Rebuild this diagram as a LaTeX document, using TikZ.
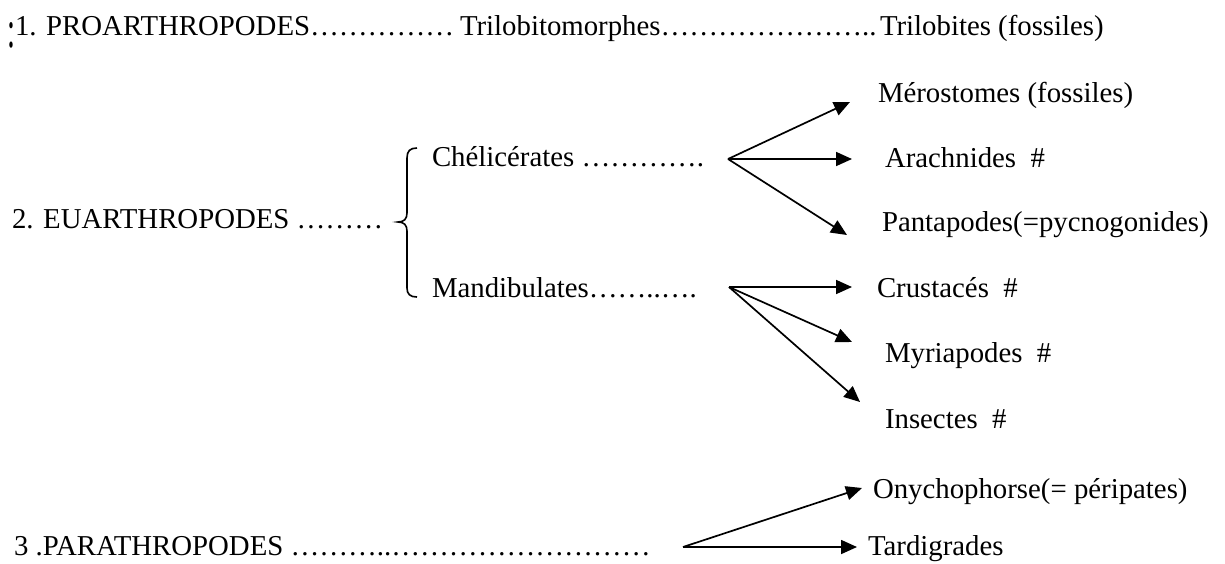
\documentclass[tikz,border=0pt]{standalone}
\usepackage{fontspec}
\setmainfont{Liberation Serif}
\usetikzlibrary{arrows.meta}
\begin{document}
\begin{tikzpicture}[x=0.5pt,y=-0.5pt,
  lbl/.style={anchor=base west, inner sep=0pt, outer sep=0pt, font=\fontsize{14.4}{17}\selectfont},
  arr/.style={line width=0.85pt, -{Triangle[length=8pt,width=7pt]}},
  bracestyle/.style={line width=0.8pt}]
\useasboundingbox (0,0) rectangle (1225,563);
% line 1
\node[lbl] (pro) at (7,35) {\raisebox{-6pt}{\scalebox{1}[1.85]{:}}1. PROARTHROPODES…{}…{}…{}…{}…};
\node[lbl] (trilobito) at (460,35) {Trilobitomorphes…{}…{}…{}…{}…{}…{}…{}..};
\node[lbl] (trilobites) at (880,35) {Trilobites (fossiles)};
% line 2
\node[lbl] (eu) at (12,228) {2. EUARTHROPODES …{}…{}…};
\draw[bracestyle] (417,148) .. controls (410,148) and (407,151) .. (407,158) -- (407,213)
  .. controls (407,219) and (404,222) .. (398,222)
  .. controls (404,222) and (407,225) .. (407,231) -- (407,288)
  .. controls (407,294) and (410,297) .. (417,297);
\node[lbl] (chel) at (432,166) {Chélicérates …{}…{}…{}…{}.};
\node[lbl] (mand) at (432,297) {Mandibulates…{}…{}..…{}.};
\node[lbl] (mero) at (878,102) {Mérostomes (fossiles)};
\node[lbl] (arach) at (885,167) {Arachnides\ \ \#};
\node[lbl] (panta) at (882,231) {Pantapodes(=pycnogonides)};
\node[lbl] (crust) at (877,297) {Crustacés\ \ \#};
\node[lbl] (myria) at (885,362) {Myriapodes\ \ \#};
\node[lbl] (insect) at (885,428) {Insectes\ \ \#};
% line 3
\node[lbl] (para) at (14,555) {3 .PARATHROPODES …{}…{}…{}..…{}…{}…{}…{}…{}…{}…{}…{}…};
\node[lbl] (onycho) at (873,498) {Onychophorse(= péripates)};
\node[lbl] (tardi) at (868,555) {Tardigrades};
% connector coordinates
\coordinate (chelout) at (728,159);
\coordinate (mandout) at (729,287);
\coordinate (paraout) at (683,547);
\coordinate (meroin) at (850,102);
\coordinate (arachin) at (852,159);
\coordinate (pantain) at (847,235);
\coordinate (crustin) at (852,287);
\coordinate (myriain) at (852,342);
\coordinate (insectin) at (860,402);
\coordinate (onychoin) at (862,488);
\coordinate (tardiin) at (857,547);
\draw[arr] (chelout) -- (meroin);
\draw[arr] (chelout) -- (arachin);
\draw[arr] (chelout) -- (pantain);
\draw[arr] (mandout) -- (crustin);
\draw[arr] (mandout) -- (myriain);
\draw[arr] (mandout) -- (insectin);
\draw[arr] (paraout) -- (onychoin);
\draw[arr] (paraout) -- (tardiin);
\end{tikzpicture}
\end{document}
